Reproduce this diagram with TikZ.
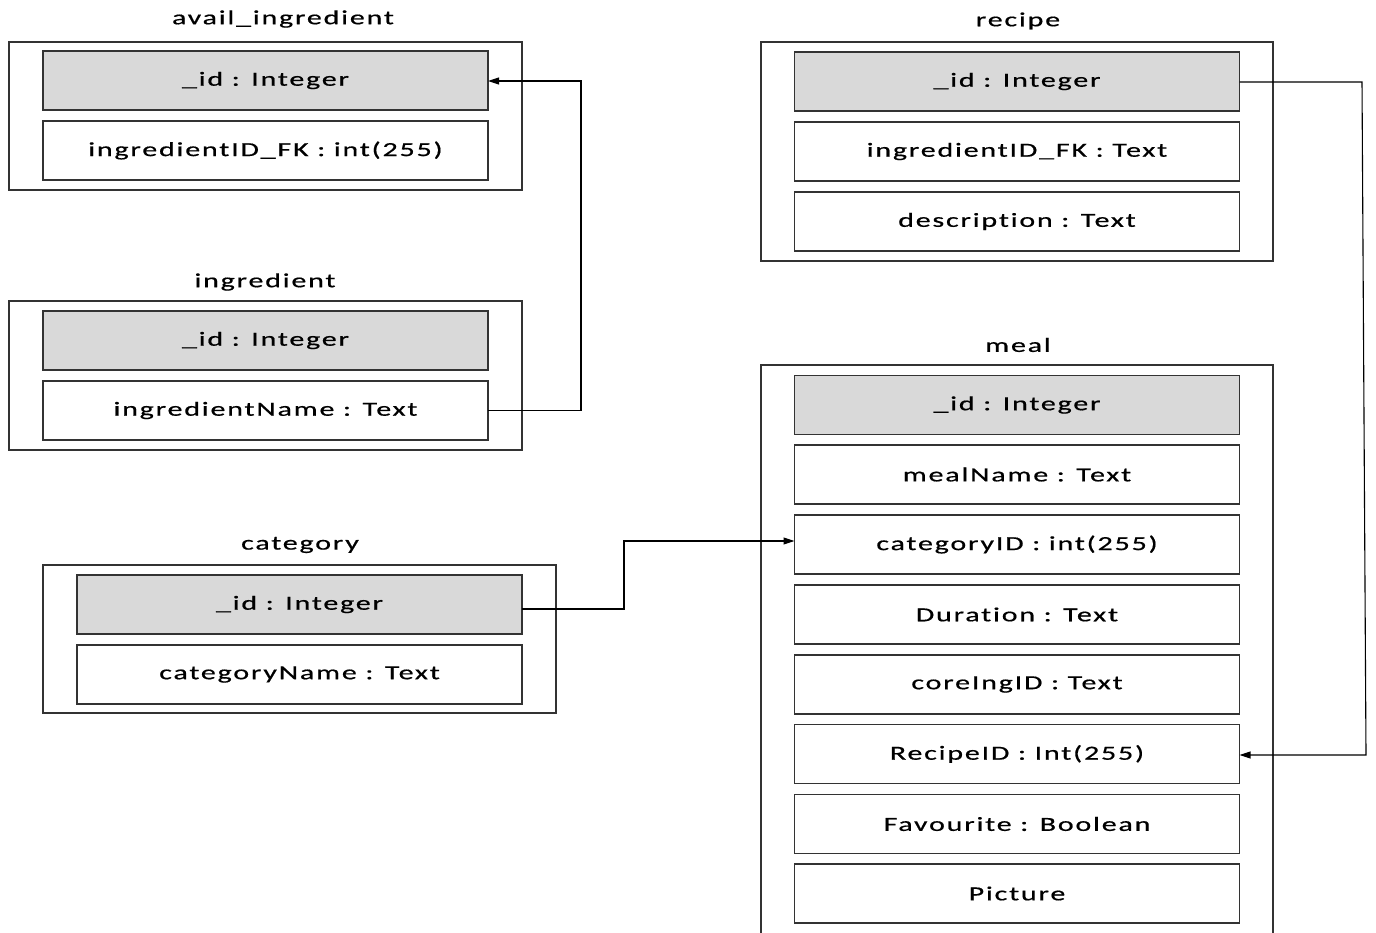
\documentclass[tikz,border=0pt]{standalone}
\usepackage{fontspec}
\setmainfont[FakeStretch=1.5,LetterSpace=9,FakeBold=0.6,Ligatures=NoCommon]{Carlito}
\usetikzlibrary{arrows.meta}
\begin{document}
\begin{tikzpicture}[x=1pt,y=-1pt,
  every node/.style={font=\fontsize{20}{24}\selectfont, inner sep=0pt, outer sep=0pt},
  outerbox/.style={draw=black!80, line width=1.1pt, fill=white},
  rowbox/.style={draw=black!80, line width=1.1pt, fill=white, minimum width=445pt, minimum height=59pt},
  keybox/.style={rowbox, fill=black!15},
  title/.style={},
  link/.style={draw=black, line width=1.1pt},
  arr/.style={-{Triangle[length=11pt,width=7pt]}}
]
\useasboundingbox (0,0) rectangle (1376,933);
% avail_ingredient
\node[title] (tai) at (283,19) {avail\_ingredient};
\node[outerbox, minimum width=513pt, minimum height=148pt] (ai) at (265.5,116) {};
\node[keybox] (aiid) at (265.5,80.5) {\_id : Integer};
\node[rowbox] (aifk) at (265.5,150.5) {ingredientID\_FK : int(255)};
% ingredient
\node[title] (ting) at (265,282) {ingredient};
\node[outerbox, minimum width=513pt, minimum height=149pt] (ing) at (265.5,375.5) {};
\node[keybox] (ingid) at (265.5,340.5) {\_id : Integer};
\node[rowbox] (ingname) at (265.5,410.5) {ingredientName : Text};
% category
\node[title] (tcat) at (300,545) {category};
\node[outerbox, minimum width=513pt, minimum height=148pt] (cat) at (299.5,639) {};
\node[keybox] (catid) at (299.5,604.5) {\_id : Integer};
\node[rowbox] (catname) at (299.5,674.5) {categoryName : Text};
% recipe
\node[title] (trec) at (1018,21) {recipe};
\node[outerbox, minimum width=512pt, minimum height=219pt] (rec) at (1017,151.5) {};
\node[keybox] (recid) at (1017,81.5) {\_id : Integer};
\node[rowbox] (recfk) at (1017,151.5) {ingredientID\_FK : Text};
\node[rowbox] (recdesc) at (1017,221.5) {description : Text};
% meal
\node[title] (tmeal) at (1018,345) {meal};
\node[outerbox, minimum width=512pt, minimum height=590pt] (meal) at (1017,660) {};
\node[keybox] (mealid) at (1017,405) {\_id : Integer};
\node[rowbox] (mealname) at (1017,474.5) {mealName : Text};
\node[rowbox] (mealcat) at (1017,544.5) {categoryID : int(255)};
\node[rowbox] (mealdur) at (1017,614.5) {Duration : Text};
\node[rowbox] (mealcore) at (1017,684.5) {coreIngID : Text};
\node[rowbox] (mealrec) at (1017,754) {RecipeID : Int(255)};
\node[rowbox] (mealfav) at (1017,824) {Favourite : Boolean};
\node[rowbox] (mealpic) at (1017,893.5) {Picture};
% connectors
\coordinate (c1) at (581,410.5);
\coordinate (c2) at (581,81);
\draw[link,arr] (ingname.east) -- (c1) -- (c2) -- (aiid.east |- c2);
\coordinate (c3) at (624,609);
\coordinate (c4) at (624,541);
\draw[link,arr] (catid.east |- c3) -- (c3) -- (c4) -- (mealcat.west |- c4);
\coordinate (c5) at (1362,82);
\coordinate (c6) at (1366,755);
\draw[link,arr] (recid.east |- c5) -- (c5) -- (c6) -- (mealrec.east |- c6);
\end{tikzpicture}
\end{document}
